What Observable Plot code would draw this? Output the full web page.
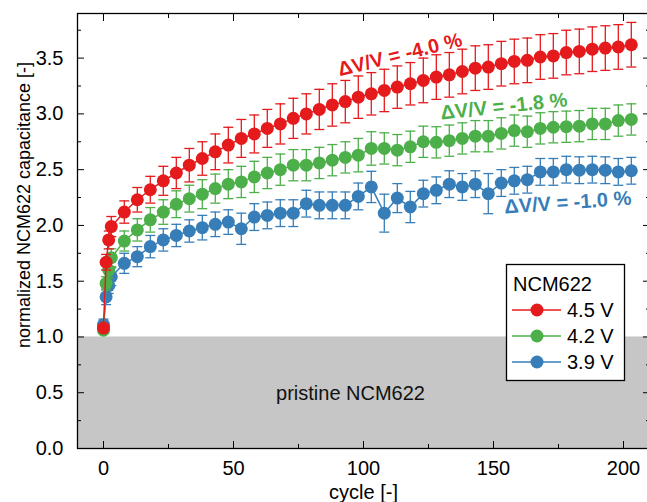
<!DOCTYPE html>
<html><head><meta charset="utf-8">
<script src="https://cdn.jsdelivr.net/npm/d3@7"></script>
<script src="https://cdn.jsdelivr.net/npm/@observablehq/plot@0.6"></script>
<style>body{margin:0;background:#fff}#chart{position:relative;width:647px;height:502px;overflow:hidden}</style>
</head><body><div id="chart"></div>
<script>
const cycles = [0,1,2,3,8,13,18,23,28,33,38,43,48,53,58,63,68,73,78,83,88,93,98,103,108,113,118,123,128,133,138,143,148,153,158,163,168,173,178,183,188,193,198,203];

const red45 = [1.08,1.67,1.87,1.99,2.12,2.23,2.32,2.40,2.47,2.54,2.60,2.66,2.72,2.78,2.82,2.87,2.91,2.96,3.00,3.04,3.08,3.11,3.15,3.18,3.21,3.24,3.27,3.30,3.33,3.35,3.38,3.41,3.42,3.45,3.47,3.48,3.51,3.52,3.55,3.56,3.58,3.59,3.60,3.62];
const red45Err = [0.03,0.07,0.08,0.09,0.10,0.11,0.12,0.13,0.14,0.15,0.15,0.16,0.16,0.17,0.17,0.17,0.18,0.18,0.18,0.18,0.19,0.19,0.19,0.19,0.19,0.19,0.19,0.20,0.20,0.20,0.20,0.20,0.20,0.20,0.20,0.20,0.20,0.20,0.20,0.20,0.20,0.20,0.20,0.20];

const green42 = [1.06,1.48,1.60,1.71,1.86,1.96,2.05,2.12,2.19,2.24,2.28,2.33,2.37,2.39,2.435,2.47,2.50,2.54,2.54,2.56,2.585,2.61,2.63,2.69,2.69,2.675,2.705,2.75,2.745,2.76,2.78,2.80,2.80,2.825,2.85,2.84,2.87,2.88,2.885,2.89,2.91,2.91,2.94,2.95];
const green42Err = [0.03,0.06,0.07,0.08,0.09,0.10,0.11,0.11,0.12,0.12,0.13,0.13,0.13,0.14,0.14,0.14,0.14,0.14,0.14,0.14,0.14,0.14,0.15,0.15,0.14,0.14,0.14,0.14,0.14,0.14,0.14,0.14,0.14,0.14,0.14,0.14,0.14,0.14,0.14,0.14,0.14,0.14,0.14,0.14];

const blue39 = [1.11,1.36,1.46,1.54,1.66,1.72,1.81,1.87,1.91,1.95,1.98,2.01,2.03,1.97,2.075,2.09,2.11,2.11,2.195,2.18,2.18,2.18,2.26,2.345,2.11,2.245,2.165,2.285,2.315,2.37,2.345,2.37,2.285,2.38,2.40,2.41,2.48,2.48,2.50,2.495,2.50,2.495,2.48,2.49];
const blue39Err = [0.05,0.07,0.07,0.08,0.09,0.09,0.10,0.10,0.10,0.10,0.11,0.11,0.11,0.14,0.12,0.12,0.12,0.12,0.12,0.12,0.12,0.12,0.12,0.14,0.17,0.13,0.14,0.12,0.12,0.12,0.12,0.12,0.18,0.12,0.12,0.12,0.12,0.12,0.12,0.12,0.12,0.12,0.12,0.12];

const seriesNames = ["4.5 V", "4.2 V", "3.9 V"];
const seriesColors = ["#e41a1c", "#4daf4a", "#377eb8"];
const seriesValues = [red45, green42, blue39];
const seriesErrors = [red45Err, green42Err, blue39Err];
const legendTitle = "NCM622";

const annotTexts = ["\u0394V/V = -4.0 %", "\u0394V/V = -1.8 %", "\u0394V/V = -1.0 %"];
const annotX = [114, 154, 178.6];
const annotY = [3.53, 3.066, 2.204];
const annotAngle = [-14, -6, -4];

const bandLabel = "pristine NCM622";
const bandLabelX = 95, bandLabelY = 0.49;

const xDomain = [-10, 210];
const yDomain = [0, 3.9];
const xMajor = [0, 50, 100, 150, 200];
const xMinor = [25, 75, 125, 175];
const yMajor = [0, 0.5, 1.0, 1.5, 2.0, 2.5, 3.0, 3.5];
const yMinor = [0.25, 0.75, 1.25, 1.75, 2.25, 2.75, 3.25, 3.75];
const xLabel = "cycle [-]";
const yLabel = "normalized NCM622 capacitance [-]";

const FONT = '"Liberation Sans", Arial, Helvetica, sans-serif';

const band = [{x1: xDomain[0], x2: xDomain[1], y1: 0, y2: 1}];
const annots = annotTexts.map((t, i) => ({t, x: annotX[i], y: annotY[i], a: annotAngle[i], c: seriesColors[i]}));

const capSymbol = {draw(ctx, size) { const w = Math.sqrt(size / Math.PI); ctx.moveTo(-w, 0); ctx.lineTo(w, 0); }};

const seriesMarks = [];
for (let s = 2; s >= 0; s--) {
  const rows = cycles.map((c, i) => ({c, v: seriesValues[s][i], e: seriesErrors[s][i]}));
  const col = seriesColors[s];
  seriesMarks.push(
    Plot.ruleX(rows, {x: "c", y1: d => d.v - d.e, y2: d => d.v + d.e, stroke: col, strokeWidth: 1.3}),
    Plot.dot(rows, {x: "c", y: d => d.v + d.e, symbol: capSymbol, r: 5, stroke: col, strokeWidth: 1.3, fill: "none"}),
    Plot.dot(rows, {x: "c", y: d => d.v - d.e, symbol: capSymbol, r: 5, stroke: col, strokeWidth: 1.3, fill: "none"}),
    Plot.line(rows, {x: "c", y: "v", stroke: col, strokeWidth: 1.5}),
    Plot.dot(rows, {x: "c", y: "v", r: 6.5, fill: col, stroke: "none"})
  );
}

const noText = () => "";
const plot = Plot.plot({
  width: 647, height: 502,
  marginLeft: 77, marginRight: -2, marginTop: 13, marginBottom: 54,
  x: {domain: xDomain, axis: null},
  y: {domain: yDomain, axis: null},
  style: {fontFamily: FONT, fontSize: "20px", color: "#000", background: "#fff"},
  marks: [
    Plot.rect(band, {x1: "x1", x2: "x2", y1: "y1", y2: "y2", fill: "#c6c6c6"}),
    Plot.text([bandLabel], {x: bandLabelX, y: bandLabelY, text: d => d, fontSize: 20, fill: "#111"}),
    ...seriesMarks,
    Plot.text(annots, {x: "x", y: "y", text: "t", rotate: "a", fill: "c", fontSize: 20, fontWeight: "bold"}),
    Plot.axisX(xMajor, {anchor: "bottom", tickSize: 0, tickPadding: 12, label: null, fontSize: 20}),
    Plot.axisY(yMajor, {anchor: "left", tickSize: 0, tickPadding: 14, label: null, fontSize: 20, tickFormat: d => d.toFixed(1)}),
    Plot.axisX(xMajor, {anchor: "bottom", tickSize: -7, tickFormat: noText, label: null}),
    Plot.axisX(xMinor, {anchor: "bottom", tickSize: -4, tickFormat: noText, label: null}),
    Plot.axisX(xMajor, {anchor: "top", tickSize: -7, tickFormat: noText, label: null}),
    Plot.axisX(xMinor, {anchor: "top", tickSize: -4, tickFormat: noText, label: null}),
    Plot.axisY(yMajor, {anchor: "left", tickSize: -7, tickFormat: noText, label: null}),
    Plot.axisY(yMinor, {anchor: "left", tickSize: -4, tickFormat: noText, label: null}),
    Plot.axisY(yMajor, {anchor: "right", tickSize: -7, tickFormat: noText, label: null}),
    Plot.axisY(yMinor, {anchor: "right", tickSize: -4, tickFormat: noText, label: null}),
    Plot.frame({stroke: "#000", strokeWidth: 1.3}),
    Plot.text([xLabel], {frameAnchor: "bottom", textAnchor: "middle", lineAnchor: "middle", dy: 44, text: d => d, fontSize: 20}),
    Plot.text([yLabel], {frameAnchor: "left", textAnchor: "middle", lineAnchor: "middle", rotate: -90, dx: -53, dy: -26, text: d => d, fontSize: 18})
  ]
});

document.getElementById("chart").appendChild(plot);

// legend
const svg = d3.select(plot);
const g = svg.append("g").attr("font-family", FONT).attr("font-size", 20).attr("text-anchor", "start");
g.append("rect").attr("x", 506.5).attr("y", 264.5).attr("width", 118).attr("height", 116)
  .attr("fill", "#fff").attr("stroke", "#000").attr("stroke-width", 1.3);
g.append("text").attr("x", 513).attr("y", 284).attr("dy", "0.35em").attr("fill", "#000").text(legendTitle);
seriesNames.forEach((name, i) => {
  const y = 310 + i * 26;
  g.append("line").attr("x1", 512).attr("x2", 561).attr("y1", y).attr("y2", y).attr("stroke", seriesColors[i]).attr("stroke-width", 1.5);
  g.append("circle").attr("cx", 537).attr("cy", y).attr("r", 6.5).attr("fill", seriesColors[i]);
  g.append("text").attr("x", 567).attr("y", y).attr("dy", "0.35em").attr("fill", "#000").text(name);
});
</script></body></html>
